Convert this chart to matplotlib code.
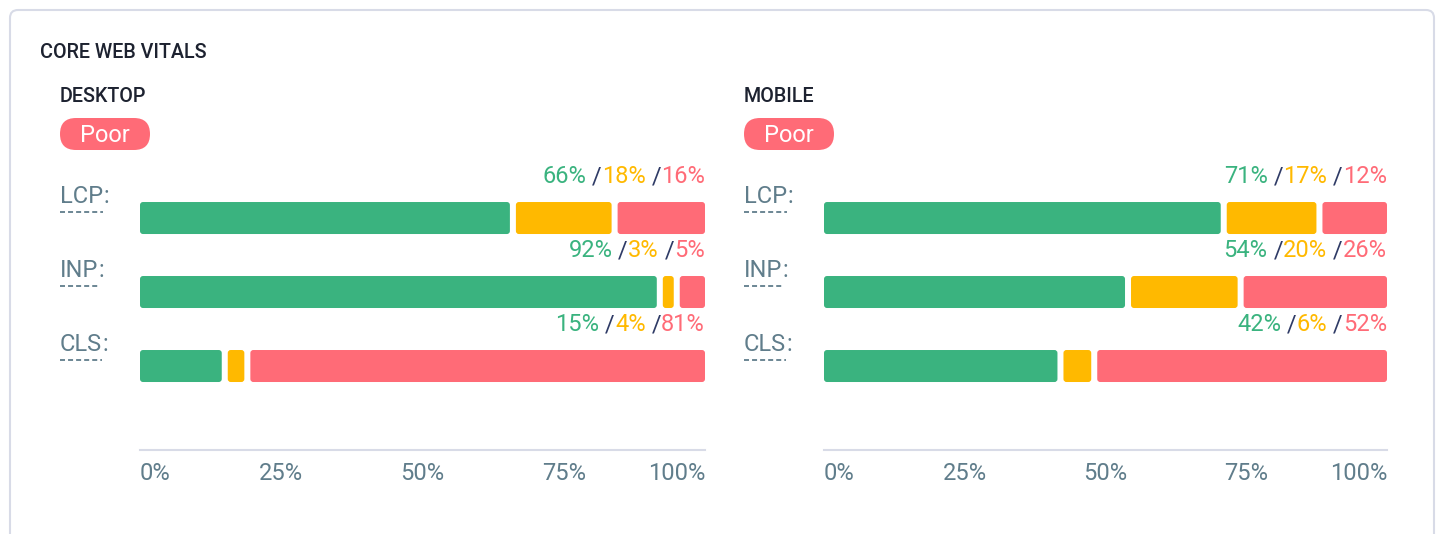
import matplotlib
matplotlib.use('Agg')
import matplotlib.pyplot as plt
from matplotlib.patches import FancyBboxPatch
from matplotlib.lines import Line2D
from matplotlib.offsetbox import TextArea, HPacker, AnnotationBbox
from matplotlib.transforms import blended_transform_factory, IdentityTransform

plt.rcParams['font.family'] = ['Roboto', 'DejaVu Sans']
plt.rcParams['lines.scale_dashes'] = False

# data
metrics = ['LCP', 'INP', 'CLS']
desktop_good = [66, 92, 15]
desktop_ni = [18, 3, 4]
desktop_poor = [16, 5, 81]
mobile_good = [71, 54, 42]
mobile_ni = [17, 20, 6]
mobile_poor = [12, 26, 52]
ticks = [0, 25, 50, 75, 100]
tick_labels = ['0%', '25%', '50%', '75%', '100%']

GREEN = '#3ab37f'
YELLOW = '#ffb900'
RED = '#ff6b77'
NAVY = '#2f3b66'
GREY = '#607d8b'
LINE = '#d8dbe7'
DARK = '#1d2230'
FS = 17

W, H = 1443, 534
fig = plt.figure(figsize=(W / 100, H / 100), dpi=100)
ident = IdentityTransform()
renderer = fig.canvas.get_renderer()

# card outline
fig.add_artist(FancyBboxPatch((10, -30), 1424, 554, boxstyle='round,pad=0,rounding_size=8',
                              fc='none', ec=LINE, lw=1.5, transform=ident))
fig.text(40 / W, 1 - 58 / H, 'CORE WEB VITALS', fontsize=14.2, fontweight='medium', color=DARK)

YTOP, YBOT = -0.784, 3.135
BAR_H = 32 / 74


def panel(left, right, title, good, ni, poor):
    fig.text((left - 80) / W, 1 - 102 / H, title, fontsize=14.2, fontweight='medium', color=DARK)
    # badge
    fig.add_artist(FancyBboxPatch((left - 80, H - 150), 90, 32, boxstyle='round,pad=0,rounding_size=16',
                                  fc=RED, ec='none', transform=ident))
    fig.text((left - 35) / W, 1 - 142 / H, 'Poor', fontsize=FS, color='white', ha='center', va='baseline')

    ax = fig.add_axes([left / W, 1 - 450 / H, (right - left) / W, 290 / H])
    ax.set_xlim(0, 100)
    ax.set_ylim(YBOT, YTOP)
    xs = 100 / ax.bbox.width
    ys = (YBOT - YTOP) / ax.bbox.height
    aspect = ys / xs
    gap = 3 * xs
    tr2 = blended_transform_factory(ident, ax.transData)
    for i, name in enumerate(metrics):
        vals = [good[i], ni[i], poor[i]]
        cols = [GREEN, YELLOW, RED]
        start = 0
        for j, (v, c) in enumerate(zip(vals, cols)):
            x0 = start + (gap if j > 0 else 0)
            x1 = start + v - (gap if j < 2 else 0)
            start += v
            ax.add_patch(FancyBboxPatch((x0, i - BAR_H / 2), x1 - x0, BAR_H,
                                        boxstyle='round,pad=0,rounding_size=%f' % (3 * xs),
                                        mutation_aspect=aspect, fc=c, ec='none'))
        parts = [('%d%%' % good[i], GREEN), (' /', NAVY), ('%d%%' % ni[i], YELLOW),
                 (' /', NAVY), ('%d%%' % poor[i], RED)]
        box = HPacker(children=[TextArea(s, textprops=dict(color=c, fontsize=FS)) for s, c in parts],
                      align='baseline', pad=0, sep=0)
        ab = AnnotationBbox(box, (100, i - BAR_H / 2 - 14 / 74), box_alignment=(1, 0),
                            frameon=False, pad=0)
        ax.add_artist(ab)

        # metric label with dashed underline
        t = ax.text(left - 80, i - 15 / 74, name, transform=tr2, color=GREY, fontsize=FS, va='baseline')
        bb = t.get_window_extent(renderer)
        ax.text(bb.x1, i - 15 / 74, ':', transform=tr2, color=GREY, fontsize=FS, va='baseline')
        ax.add_line(Line2D([bb.x0, bb.x1], [i - 6 / 74, i - 6 / 74], transform=tr2, color=GREY,
                           lw=1.3, linestyle=(0, (3.6, 2.2)), clip_on=False))

    ax.set_xticks(ticks, tick_labels)
    ax.tick_params(axis='x', length=0, pad=9, labelsize=FS, labelcolor=GREY)
    labs = ax.get_xticklabels()
    labs[0].set_ha('left')
    labs[-1].set_ha('right')
    ax.set_yticks([])
    for s in ['top', 'left', 'right']:
        ax.spines[s].set_visible(False)
    ax.spines['bottom'].set_color(LINE)
    ax.spines['bottom'].set_linewidth(1.5)
    ax.patch.set_alpha(0)


panel(140, 705, 'DESKTOP', desktop_good, desktop_ni, desktop_poor)
panel(824, 1387, 'MOBILE', mobile_good, mobile_ni, mobile_poor)

fig.savefig('out.png', dpi=100)
